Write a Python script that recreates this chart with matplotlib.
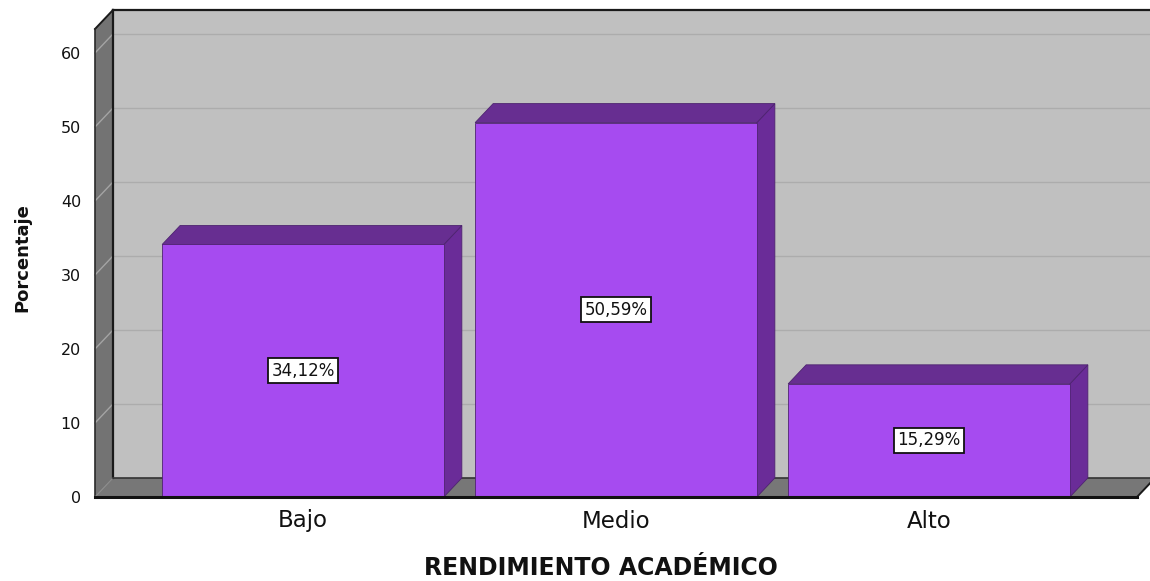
import matplotlib
matplotlib.use("Agg")
import matplotlib.pyplot as plt
from matplotlib.patches import Polygon

# ---- data ----
categories = ["Bajo", "Medio", "Alto"]
percentages = [34.12, 50.59, 15.29]
value_labels = ["34,12%", "50,59%", "15,29%"]
yticks = [0, 10, 20, 30, 40, 50, 60]
xlabel = "RENDIMIENTO ACADÉMICO"
ylabel = "Porcentaje"

# ---- style / geometry ----
W, H, DPI = 1150, 581, 100
bar_width = 0.9
x0, x1 = -0.6645, 2.6645      # front plane extent (category units)
ytop = 63.24                  # front-plane equivalent of wall top
dx, dy = 0.0575, 2.57         # 3D depth offset in data units

c_back = "#c0c0c0"
c_grid = "#acacac"
c_side_wall = "#737373"
c_floor = "#777777"
c_front = "#a64bf0"
c_top = "#672e91"
c_side = "#6a2c98"
c_bar_edge = "#4e2370"

plt.rcParams["font.family"] = ["DejaVu Sans"]

fig = plt.figure(figsize=(W / DPI, H / DPI), dpi=DPI)
ax = fig.add_axes([95 / W, 1 - 497 / H, (1137 - 95) / W, (497 - 29) / H])
ax.set_xlim(x0, x1)
ax.set_ylim(0, ytop)
for s in ax.spines.values():
    s.set_visible(False)
ax.patch.set_visible(False)

def poly(pts, fc, ec="none", lw=0.0, z=1):
    p = Polygon(pts, closed=True, facecolor=fc, edgecolor=ec, linewidth=lw,
                zorder=z, clip_on=False, joinstyle="miter")
    ax.add_patch(p)
    return p

# back wall
poly([(x0 + dx, dy), (x1 + dx, dy), (x1 + dx, ytop + dy), (x0 + dx, ytop + dy)], c_back, z=1)
for v in yticks[1:]:
    ax.plot([x0 + dx, x1 + dx], [v + dy, v + dy], color=c_grid, lw=1.0, zorder=2, clip_on=False)

# left wall
poly([(x0, 0), (x0 + dx, dy), (x0 + dx, ytop + dy), (x0, ytop)], c_side_wall, z=3)
for v in yticks[1:]:
    ax.plot([x0, x0 + dx], [v, v + dy], color="#a4a4a4", lw=1.0, zorder=4, clip_on=False)

# floor
poly([(x0, 0), (x1, 0), (x1 + dx, dy), (x0 + dx, dy)], c_floor, z=3)

# wall outlines
ax.plot([x0 + dx, x1 + dx], [ytop + dy, ytop + dy], color="#1a1a1a", lw=1.6, zorder=5, clip_on=False)
ax.plot([x0, x0 + dx], [ytop, ytop + dy], color="#1a1a1a", lw=1.4, zorder=5, clip_on=False)
ax.plot([x0 + dx, x0 + dx], [dy, ytop + dy], color="#1a1a1a", lw=1.6, zorder=5, clip_on=False)
ax.plot([x0, x0], [0, ytop], color="#2a2a2a", lw=1.2, zorder=5, clip_on=False)
ax.plot([x0, x0 + dx], [0, dy], color="#8a8a8a", lw=0.8, zorder=5, clip_on=False)
ax.plot([x0 + dx, x1 + dx], [dy, dy], color="#333333", lw=1.2, zorder=5, clip_on=False)
ax.plot([x1, x1 + dx], [0, dy], color="#1a1a1a", lw=1.4, zorder=5, clip_on=False)
ax.plot([x0, x1], [0, 0], color="#111111", lw=2.2, zorder=20, clip_on=False)

# bars
for i, (v, lab) in enumerate(zip(percentages, value_labels)):
    l, r = i - bar_width / 2, i + bar_width / 2
    poly([(r, 0), (r + dx, dy), (r + dx, v + dy), (r, v)], c_side, c_bar_edge, 0.6, z=10)
    poly([(l, v), (r, v), (r + dx, v + dy), (l + dx, v + dy)], c_top, c_bar_edge, 0.6, z=10)
    poly([(l, 0), (r, 0), (r, v), (l, v)], c_front, c_bar_edge, 0.6, z=11)
    ax.text(i, v / 2, lab, ha="center", va="center", fontsize=12, color="#111111", zorder=15,
            bbox=dict(boxstyle="square,pad=0.22", facecolor="white", edgecolor="#111111", linewidth=1.3))

# ticks
ax.set_yticks(yticks)
ax.set_yticklabels([str(t) for t in yticks], fontsize=11.5, color="#111111")
ax.set_xticks(range(len(categories)))
ax.set_xticklabels(categories, fontsize=16.5, color="#111111")
ax.tick_params(axis="y", length=0, pad=10)
ax.tick_params(axis="x", length=0, pad=9)

ax.set_xlabel(xlabel, fontsize=17, fontweight="bold", color="#111111", va="center")
ax.xaxis.set_label_coords((601 - 95) / 1042, (497 - 568) / 468)
ax.set_ylabel(ylabel, fontsize=13, fontweight="bold", color="#111111", va="center")
ax.yaxis.set_label_coords((22 - 95) / 1042, (497 - 258) / 468)

fig.savefig("out.png", dpi=DPI)
